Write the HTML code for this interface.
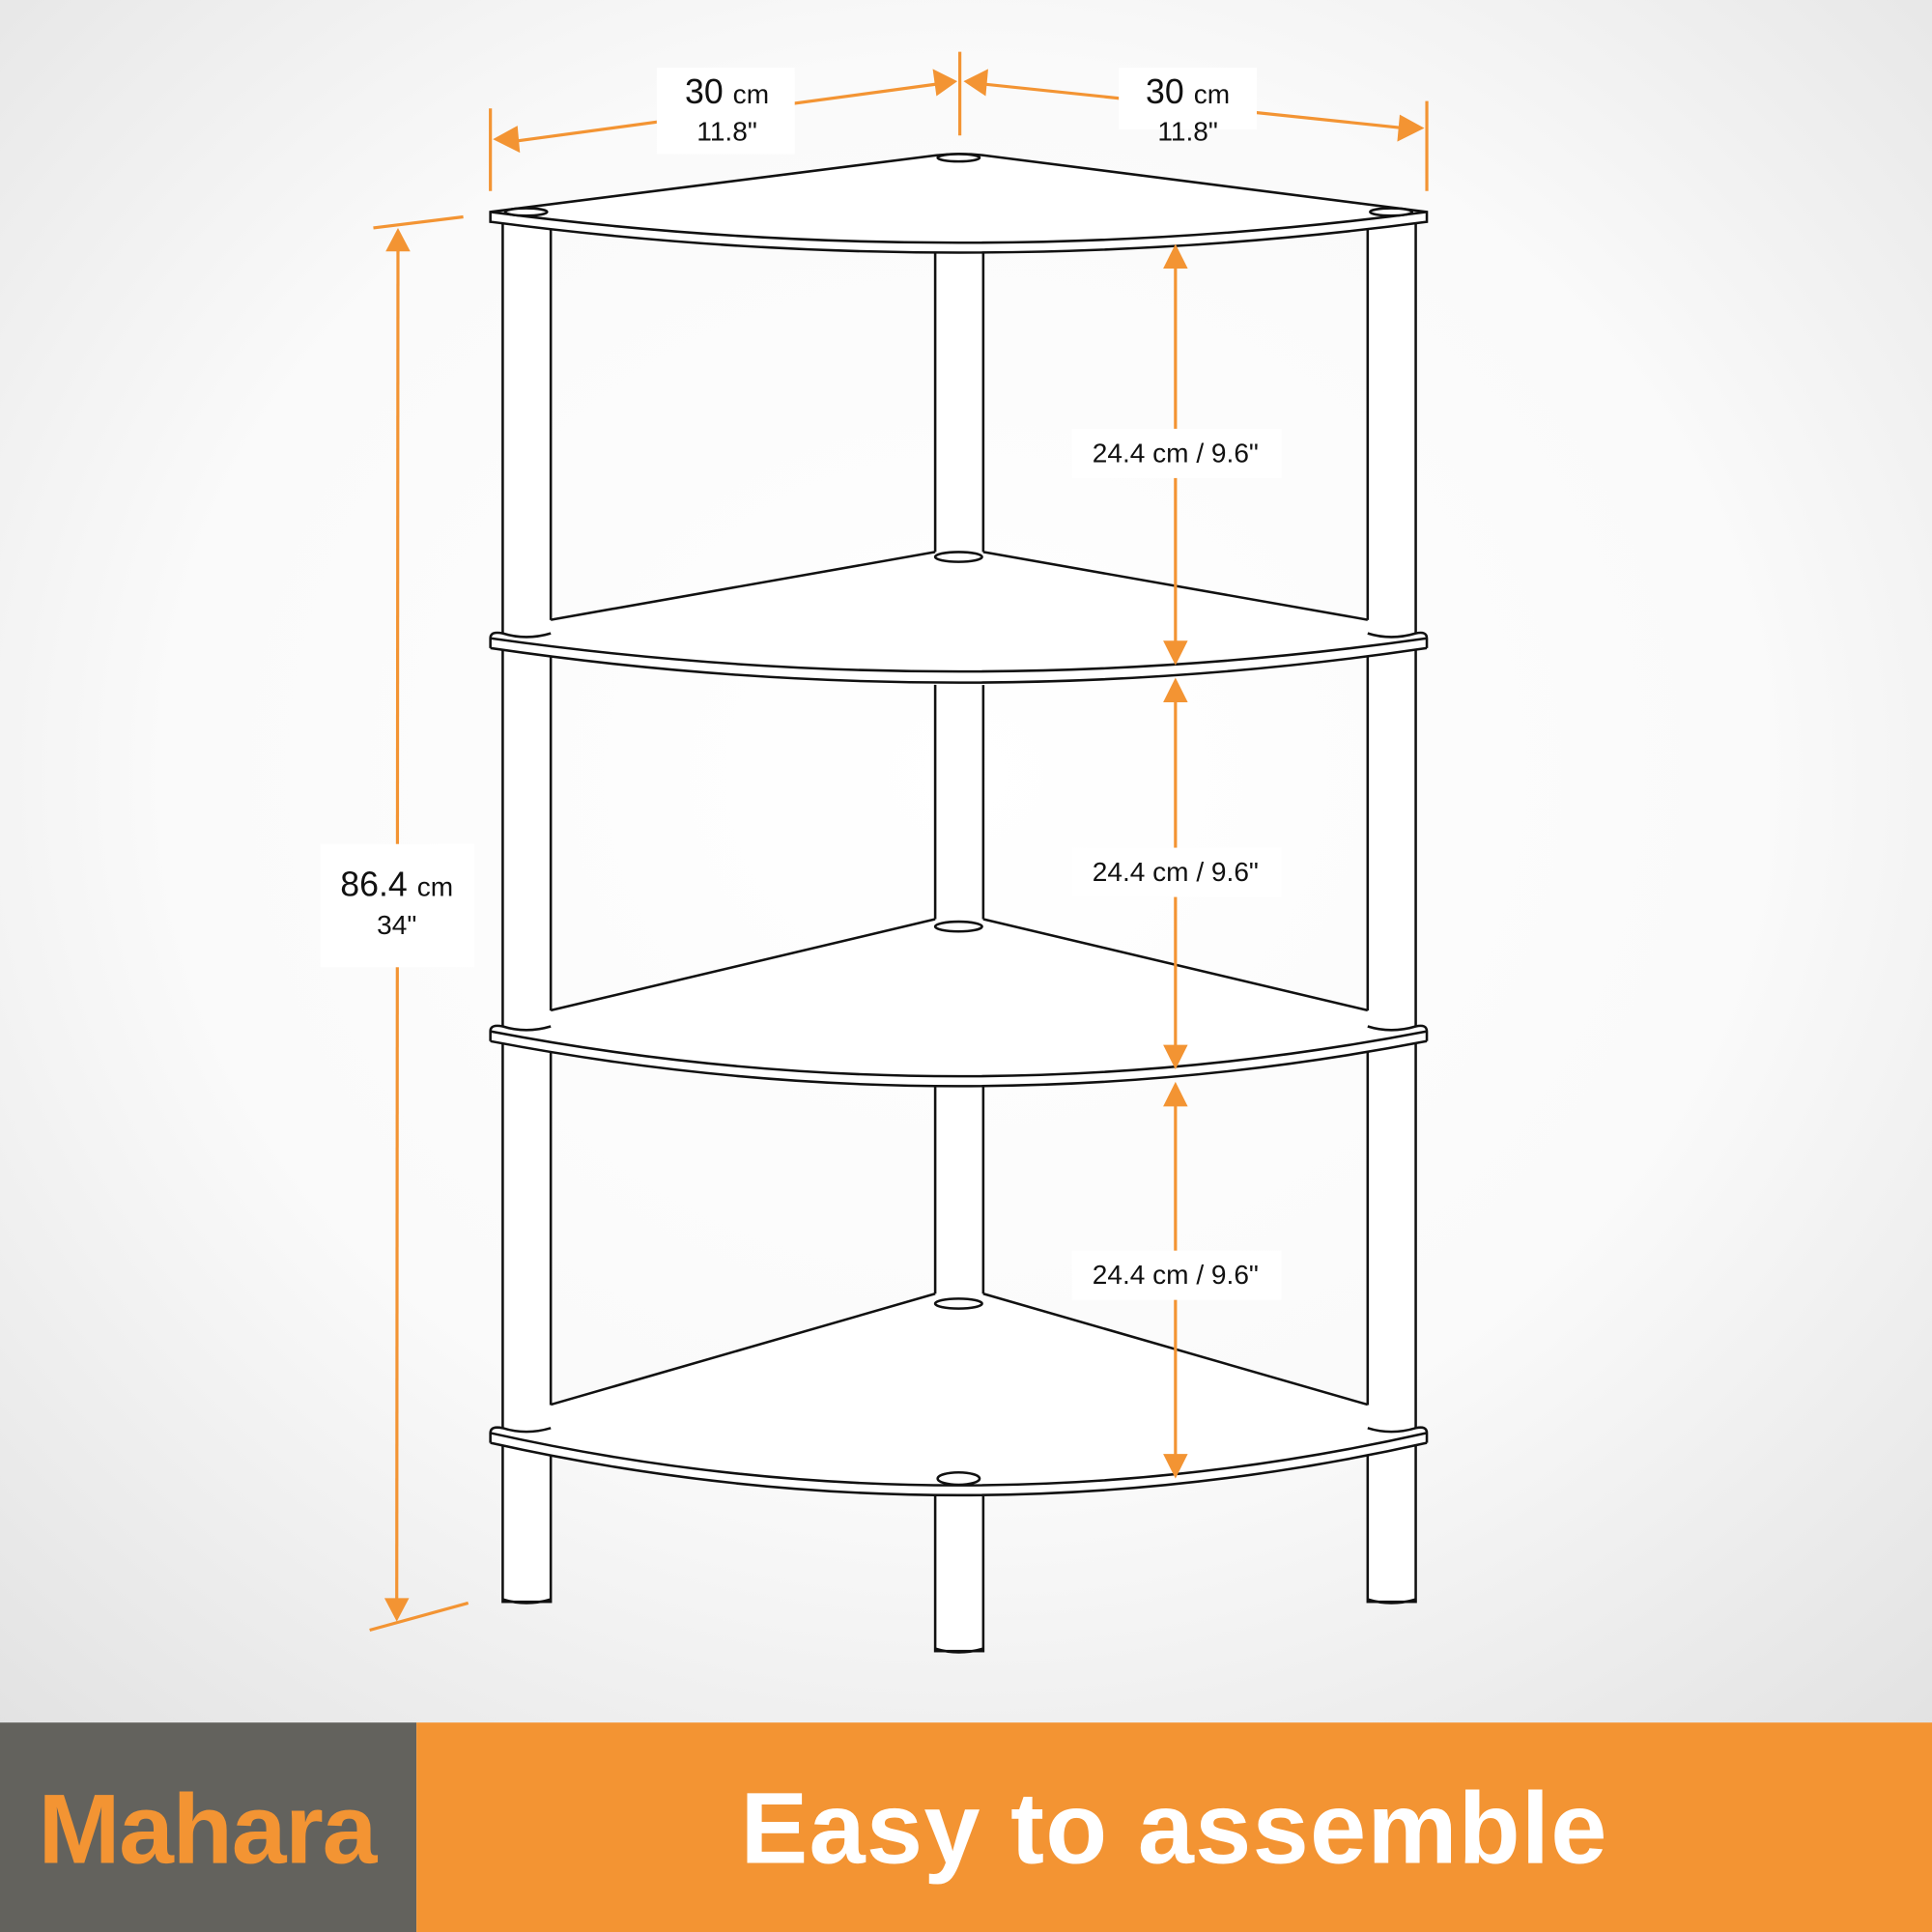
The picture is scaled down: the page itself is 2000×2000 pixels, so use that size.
<!DOCTYPE html>
<html><head><meta charset="utf-8"><style>
html,body{margin:0;padding:0;width:2000px;height:2000px;overflow:hidden}
svg{display:block}
text{font-family:"Liberation Sans",sans-serif}
</style></head><body>
<svg width="2000" height="2000" viewBox="0 0 1568 1568" xmlns="http://www.w3.org/2000/svg">
<defs>
<radialGradient id="bg" cx="50%" cy="45%" r="75%">
<stop offset="0" stop-color="#ffffff"/><stop offset="0.55" stop-color="#fafafa"/><stop offset="1" stop-color="#e2e2e2"/>
</radialGradient>
</defs>
<rect width="1568" height="1398" fill="url(#bg)"/>
<g fill="#fff" stroke="#111" stroke-width="2">
<!-- posts -->
<rect x="408" y="178" width="39" height="1122"/>
<rect x="1110" y="178" width="39" height="1122"/>
<rect x="759" y="190" width="39" height="1150"/>
<path d="M408,1298 Q427,1304 447,1298" fill="none"/>
<path d="M1110,1298 Q1129,1304 1149,1298" fill="none"/>
<path d="M759,1338 Q778,1344 798,1338" fill="none"/>

<!-- shelf 2 -->
<path stroke="none" d="M398,518 Q398,512 408,514 L447,503 L759,448 L798,448 L1110,503 L1149,514 Q1158,512 1158,518 L1158,526 Q779,586 398,526 Z"/>
<path d="M447,503 L759,448 M798,448 L1110,503" fill="none"/>
<ellipse cx="778" cy="452" rx="19" ry="4"/>
<path d="M398,526 L398,518 Q398,512 408,514 Q427,520 447,514 M1110,514 Q1129,520 1149,514 Q1158,512 1158,518 L1158,526" fill="none"/>
<path d="M398,518 Q779,572 1158,518" fill="none"/>
<path d="M398,526 Q779,582 1158,526" fill="none"/>

<!-- shelf 3 -->
<path stroke="none" d="M398,837 Q398,831 408,833 L447,820 L759,746 L798,746 L1110,820 L1149,833 Q1158,831 1158,837 L1158,845 Q779,918 398,845 Z"/>
<path d="M447,820 L759,746 M798,746 L1110,820" fill="none"/>
<ellipse cx="778" cy="752" rx="19" ry="4"/>
<path d="M398,845 L398,837 Q398,831 408,833 Q427,839 447,833 M1110,833 Q1129,839 1149,833 Q1158,831 1158,837 L1158,845" fill="none"/>
<path d="M398,837 Q779,910 1158,837" fill="none"/>
<path d="M398,845 Q779,918 1158,845" fill="none"/>

<!-- shelf 4 -->
<path stroke="none" d="M398,1163 Q398,1157 408,1159 L447,1140 L759,1050 L798,1050 L1110,1140 L1149,1159 Q1158,1157 1158,1163 L1158,1171 Q779,1258 398,1171 Z"/>
<path d="M447,1140 L759,1050 M798,1050 L1110,1140" fill="none"/>
<ellipse cx="778" cy="1058" rx="19" ry="4"/>
<path d="M398,1171 L398,1163 Q398,1157 408,1159 Q427,1165 447,1159 M1110,1159 Q1129,1165 1149,1159 Q1158,1157 1158,1163 L1158,1171" fill="none"/>
<path d="M398,1163 Q779,1248 1158,1163" fill="none"/>
<path d="M398,1171 Q779,1256 1158,1171" fill="none"/>
<ellipse cx="778" cy="1200" rx="17" ry="5"/>

<!-- shelf 1 (top) -->
<path d="M398,172 L760,126 Q779,124 798,126 L1158,172 L1158,180 Q779,230 398,180 Z"/>
<path d="M398,172 Q779,222 1158,172" fill="none"/>
<ellipse cx="778" cy="128" rx="17" ry="3"/>
<ellipse cx="427" cy="172" rx="17" ry="3"/>
<ellipse cx="1129" cy="172" rx="17" ry="3"/>
</g>
<!-- dimension lines -->
<g stroke="#f39433" stroke-width="2.5" fill="none">
<line x1="398" y1="88" x2="398" y2="155"/>
<line x1="779" y1="42" x2="779" y2="110"/>
<line x1="1158" y1="82" x2="1158" y2="155"/>
<line x1="415" y1="115" x2="762" y2="68"/>
<line x1="796" y1="68" x2="1140" y2="104"/>
<line x1="303" y1="185" x2="376" y2="176"/>
<line x1="300" y1="1323" x2="380" y2="1301"/>
<line x1="323" y1="200" x2="322" y2="1300"/>
<line x1="954" y1="215" x2="954" y2="525"/>
<line x1="954" y1="568" x2="954" y2="852"/>
<line x1="954" y1="895" x2="954" y2="1185"/>
</g>
<g fill="#f39433">
<polygon points="400,113 420,102 422,124"/>
<polygon points="777,66 757,56 760,78"/>
<polygon points="782,66 802,56 800,78"/>
<polygon points="1156,104 1136,93 1134,115"/>
<polygon points="323,185 313,204 333,204"/>
<polygon points="322,1316 312,1297 332,1297"/>
<polygon points="954,198 944,218 964,218"/>
<polygon points="954,540 944,520 964,520"/>
<polygon points="954,550 944,570 964,570"/>
<polygon points="954,868 944,848 964,848"/>
<polygon points="954,878 944,898 964,898"/>
<polygon points="954,1200 944,1180 964,1180"/>
</g>
<g fill="#fff">
<rect x="533" y="55" width="112" height="70"/>
<rect x="908" y="55" width="112" height="50"/>
<rect x="260" y="685" width="125" height="100"/>
<rect x="870" y="348" width="170" height="40"/>
<rect x="870" y="688" width="170" height="40"/>
<rect x="870" y="1015" width="170" height="40"/>
</g>
<g fill="#111" text-anchor="middle">
<text x="590" y="84" font-size="28">30 <tspan font-size="22">cm</tspan></text>
<text x="590" y="114" font-size="22">11.8"</text>
<text x="964" y="84" font-size="28">30 <tspan font-size="22">cm</tspan></text>
<text x="964" y="114" font-size="22">11.8"</text>
<text x="322" y="727" font-size="28">86.4 <tspan font-size="22">cm</tspan></text>
<text x="322" y="758" font-size="22">34"</text>
<text x="954" y="375" font-size="22">24.4 cm / 9.6"</text>
<text x="954" y="715" font-size="22">24.4 cm / 9.6"</text>
<text x="954" y="1042" font-size="22">24.4 cm / 9.6"</text>
</g>
<rect x="0" y="1398" width="338" height="170" fill="#63625d"/>
<rect x="338" y="1398" width="1230" height="170" fill="#f39433"/>
<text x="168" y="1512" font-size="80" fill="#f39433" text-anchor="middle" font-weight="bold" letter-spacing="-1">Mahara</text>
<text x="953" y="1512" font-size="82" fill="#fff" text-anchor="middle" font-weight="bold" letter-spacing="1">Easy to assemble</text>
</svg>
</body></html>
